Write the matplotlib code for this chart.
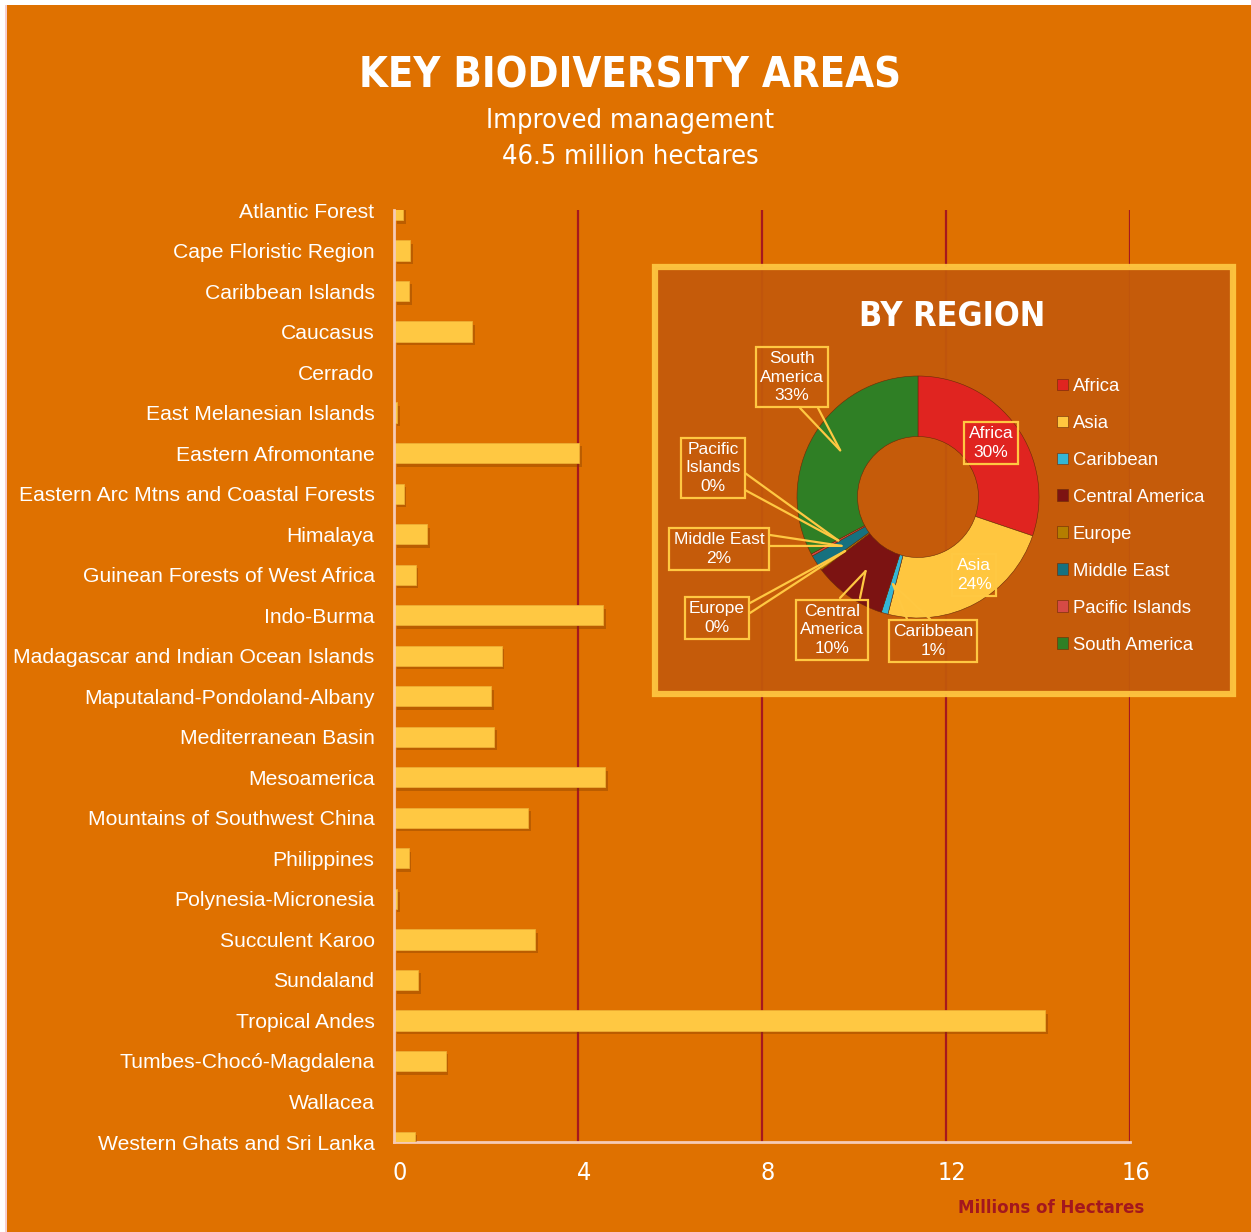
import numpy as np
import matplotlib
matplotlib.use("Agg")
import matplotlib.pyplot as plt
import matplotlib.patheffects as pe
import matplotlib.transforms as mtrans
from matplotlib.patches import Rectangle

# bar chart data (millions of hectares)
areas = ["Atlantic Forest", "Cape Floristic Region", "Caribbean Islands", "Caucasus",
         "Cerrado", "East Melanesian Islands", "Eastern Afromontane",
         "Eastern Arc Mtns and Coastal Forests", "Himalaya", "Guinean Forests of West Africa",
         "Indo-Burma", "Madagascar and Indian Ocean Islands", "Maputaland-Pondoland-Albany",
         "Mediterranean Basin", "Mesoamerica", "Mountains of Southwest China", "Philippines",
         "Polynesia-Micronesia", "Succulent Karoo", "Sundaland", "Tropical Andes",
         "Tumbes-Chocó-Magdalena", "Wallacea", "Western Ghats and Sri Lanka"]
hectares = [0.19, 0.35, 0.33, 1.70, 0.0, 0.07, 4.03, 0.21, 0.72, 0.47, 4.54, 2.34,
            2.11, 2.18, 4.59, 2.91, 0.32, 0.07, 3.06, 0.52, 14.15, 1.12, 0.0, 0.45]
x_ticks = [0, 4, 8, 12, 16]

# donut data (share of total, %)
regions = ["Africa", "Asia", "Caribbean", "Central America", "Europe",
           "Middle East", "Pacific Islands", "South America"]
shares = [30.2, 23.8, 0.9, 9.8, 0.3, 1.9, 0.3, 32.8]
region_colors = ["#E02420", "#FFC63F", "#33B6D6", "#7C1312", "#B47E00",
                 "#17717F", "#D64A45", "#2F7F25"]

W, H = 1251, 1232
ORANGE = "#DF7100"
YELLOW = "#FFC842"
NARROW = dict(family=["Liberation Sans Narrow", "DejaVu Sans"], stretch="condensed")
SANS = ["Liberation Sans", "DejaVu Sans"]


def fx(x):
    return x / W


def fy(y):
    return 1 - y / H


fig = plt.figure(figsize=(W / 100, H / 100), dpi=100, facecolor="white")
fig.add_artist(Rectangle((fx(7), 0), 1 - fx(7), fy(5), transform=fig.transFigure,
                         facecolor=ORANGE, edgecolor="none", zorder=-5))
fig.add_artist(Rectangle((fx(5), 0), fx(2), fy(5), transform=fig.transFigure,
                         facecolor="#F6CFCF", edgecolor="none", zorder=-4))

# titles
fig.text(fx(630), fy(75), "KEY BIODIVERSITY AREAS", weight="bold",
         size=30, color="white", ha="center", va="center", **NARROW)
fig.text(fx(630), fy(121), "Improved management", size=19.5,
         color="white", ha="center", va="center", **NARROW)
fig.text(fx(630), fy(157), "46.5 million hectares", size=19.5,
         color="white", ha="center", va="center", **NARROW)

# ---- bar chart ----
ax = fig.add_axes([fx(394), fy(1142), fx(1130) - fx(394), fy(210) - fy(1142)])
ax.set_facecolor("none")
ypos = np.arange(len(areas))
bars = ax.barh(ypos, hectares, height=0.5, color=YELLOW, edgecolor="#EDAE35",
               linewidth=0.6, zorder=3)
for b in bars:
    b.set_path_effects([pe.SimplePatchShadow(offset=(2, -2.5), shadow_rgbFace="#7A3A00",
                                             alpha=0.35), pe.Normal()])
ax.set_ylim(len(areas) - 1, 0)
ax.set_xlim(0, 16)
ax.set_xticks(x_ticks)
ax.set_yticks(ypos)
ax.set_yticklabels(areas, family=SANS, size=15.2, color="white")
ax.set_xticklabels([str(t) for t in x_ticks], size=18, color="white", **NARROW)
ax.tick_params(axis="y", length=0, pad=14)
ax.tick_params(axis="x", length=0, pad=14)
shift = mtrans.ScaledTranslation(6 / 100, 0, fig.dpi_scale_trans)
for lbl in ax.get_xticklabels():
    lbl.set_transform(lbl.get_transform() + shift)
ax.grid(axis="x", color="#A5181F", linewidth=1.6, zorder=1)
ax.set_axisbelow(True)
for s in ["top", "right"]:
    ax.spines[s].set_visible(False)
ax.spines["left"].set_color("#F6CBB6")
ax.spines["left"].set_linewidth(2)
ax.spines["bottom"].set_color("#F6CBB6")
ax.spines["bottom"].set_linewidth(2)
ax.spines["left"].set_zorder(4)

fig.text(fx(1051), fy(1208), "Millions of Hectares", weight="bold",
         size=13.3, color="#A3171E", ha="center", va="center", **NARROW)

# ---- inset panel ----
fig.add_artist(Rectangle((fx(655), fy(694)), fx(1233) - fx(655), fy(267) - fy(694),
                         transform=fig.transFigure, facecolor="#C35A0B", alpha=0.93,
                         edgecolor=YELLOW, linewidth=4.5, zorder=2))
fig.text(fx(952), fy(317), "BY REGION", weight="bold", size=24.5,
         color="white", ha="center", va="center", zorder=3, **NARROW)

R = 121.0  # donut radius in px
cx, cy = 918, 497
half = 250
dax = fig.add_axes([fx(cx - half), fy(cy + half), fx(2 * half), fy(cy - half) - fy(cy + half)],
                   zorder=3)
dax.set_facecolor("none")

wedges, _ = dax.pie(shares, colors=region_colors, startangle=90, counterclock=False,
                    radius=1, wedgeprops=dict(width=0.5, linewidth=0.4, edgecolor="#6A2A08"))
lim = half / R
dax.set_aspect("auto")
dax.set_xlim(-lim, lim)
dax.set_ylim(-lim, lim)
dax.axis("off")

# label box centres (px) and pointer base points relative to the box centre (px)
label_layout = {
    "Africa": ((991, 443), None),
    "Asia": ((974, 575), None),
    "Caribbean": ((933, 641), [(-26, -22), (-3, -22)]),
    "Central America": ((832, 630), [(8, -32), (28, -32)]),
    "Europe": ((717, 618), [(33, -15), (33, -5)]),
    "Middle East": ((719, 549), [(51, -14), (51, -3)]),
    "Pacific Islands": ((713, 468), [(32, 5), (32, 22)]),
    "South America": ((792, 377), [(8, 31), (26, 31)]),
}


def to_data(px_x, px_y):
    return (px_x - cx) / R, (cy - px_y) / R


cum = np.cumsum([0] + shares)
for i, name in enumerate(regions):
    (bx, by), base = label_layout[name]
    txt = name.replace(" ", "\n") if name in ("South America", "Pacific Islands",
                                               "Central America") else name
    txt = txt + "\n" + "%d%%" % round(shares[i])
    tx, ty = to_data(bx, by)
    dax.text(tx, ty, txt, ha="center", va="center", family=SANS, size=12.5,
             color="white", linespacing=1.3, zorder=5,
             bbox=dict(boxstyle="square,pad=0.25", facecolor="none", edgecolor=YELLOW,
                       linewidth=1.6))
    if base is None:
        continue
    mid = 90 - 360 * (cum[i] + cum[i + 1]) / 200.0
    ptx = 0.75 * np.cos(np.radians(mid))
    pty = 0.75 * np.sin(np.radians(mid))
    for ox, oy in base:
        sx, sy = to_data(bx + ox, by + oy)
        dax.plot([sx, ptx], [sy, pty], color=YELLOW, linewidth=1.6, zorder=4,
                 solid_capstyle="round")

leg = dax.legend(wedges, regions, loc="upper left",
                 bbox_to_anchor=(fx(1057), fy(378)), bbox_transform=fig.transFigure,
                 frameon=False, labelcolor="white", prop=dict(family=SANS, size=13.3),
                 handlelength=0.6, handleheight=0.6, handletextpad=0.25,
                 labelspacing=1.08, borderpad=0, borderaxespad=0)

fig.savefig("out.png", dpi=100, facecolor=fig.get_facecolor())
